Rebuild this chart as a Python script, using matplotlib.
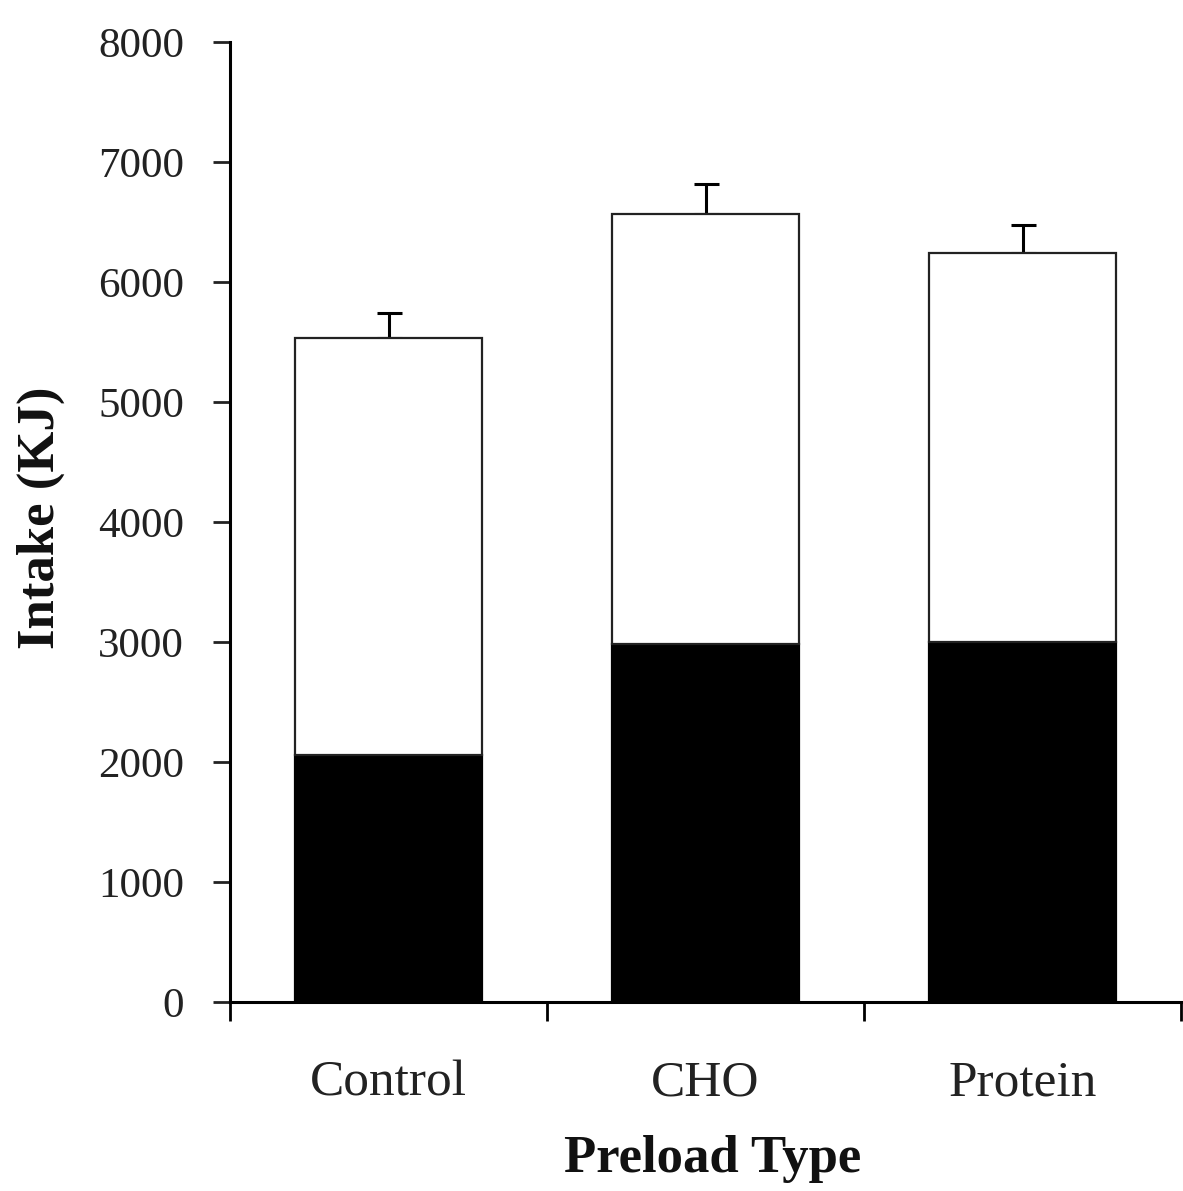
import matplotlib
matplotlib.use("Agg")
import matplotlib.pyplot as plt
from matplotlib.ticker import FixedLocator

categories = ["Control", "CHO", "Protein"]
black_segment = [2060, 2980, 3000]
white_segment = [3470, 3590, 3240]
error_up = [210, 250, 235]
yticks = [0, 1000, 2000, 3000, 4000, 5000, 6000, 7000, 8000]

plt.rcParams['font.family'] = ['Liberation Serif', 'DejaVu Serif']

W, H = 1183, 1191
fig = plt.figure(figsize=(W / 100, H / 100), dpi=100)
left, right, bottom, top = 230, 1181, 1002, 42
ax = fig.add_axes([left / W, 1 - bottom / H, (right - left) / W, (bottom - top) / H])

x = list(range(len(categories)))
totals = [b + w for b, w in zip(black_segment, white_segment)]
ax.bar(x, black_segment, width=0.59, color='black', edgecolor='black', linewidth=1.6, zorder=2)
ax.bar(x, white_segment, bottom=black_segment, width=0.59, color='white',
       edgecolor='#222222', linewidth=1.6, zorder=2)
ax.errorbar(x, totals, yerr=[[0] * len(x), error_up], fmt='none', ecolor='black',
            elinewidth=2.2, capsize=9, capthick=2.2, zorder=1)

ax.set_xlim(-0.5, 2.5)
ax.set_ylim(0, 8000)
ax.set_yticks(yticks)
ax.set_yticklabels([str(v) for v in yticks])
ax.set_xticks(x)
ax.set_xticklabels(categories)
ax.xaxis.set_minor_locator(FixedLocator([-0.5, 0.5, 1.5, 2.5]))

for s in ['top', 'right']:
    ax.spines[s].set_visible(False)
for s in ['left', 'bottom']:
    ax.spines[s].set_linewidth(2.2)
    ax.spines[s].set_color('black')
ax.spines['bottom'].set_clip_on(False)

ax.tick_params(axis='y', which='major', direction='out', length=12, width=2.0,
               labelsize=31, pad=21, colors='#222222')
ax.tick_params(axis='x', which='major', length=0, labelsize=37, pad=42, colors='#222222')
ax.tick_params(axis='x', which='minor', direction='out', length=14, width=2.0, colors='black')

ax.set_ylabel('Intake (KJ)', fontsize=38, fontweight='bold', color='#111111')
ax.yaxis.set_label_coords(-0.174, 0.504)
ax.set_xlabel('Preload Type', fontsize=38, fontweight='bold', color='#111111')
ax.xaxis.set_label_coords(0.507, -0.139)

fig.savefig('out.png', dpi=100, facecolor='white')
